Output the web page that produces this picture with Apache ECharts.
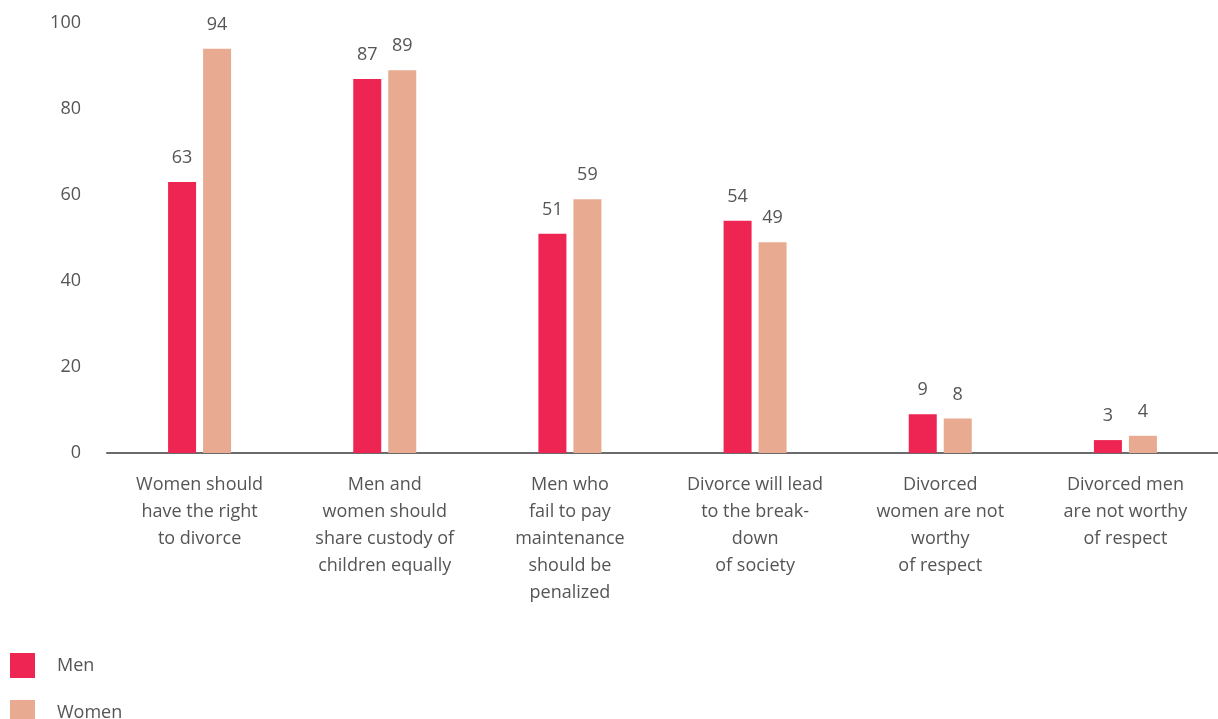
<!DOCTYPE html>
<html><head><meta charset="utf-8">
<script src="https://cdn.jsdelivr.net/npm/echarts@6/dist/echarts.min.js"></script>
<style>html,body{margin:0;padding:0;background:#fff}#c{width:1218px;height:719px}</style>
</head><body><div id="c"></div>
<script>
const categories = [
  "Women should\nhave the right\nto divorce",
  "Men and\nwomen should\nshare custody of\nchildren equally",
  "Men who\nfail to pay\nmaintenance\nshould be\npenalized",
  "Divorce will lead\nto the break-\ndown\nof society",
  "Divorced\nwomen are not\nworthy\nof respect",
  "Divorced men\nare not worthy\nof respect"
];
const menValues = [63, 87, 51, 54, 9, 3];
const womenValues = [94, 89, 59, 49, 8, 4];
const seriesNames = ["Men", "Women"];

const txt = '#555555';
const font = '"Open Sans", "Noto Sans", sans-serif';
const legendBase = {
  orient: 'vertical', left: 5, itemWidth: 25, itemHeight: 25,
  icon: 'rect', selectedMode: false,
  textStyle: { color: txt, fontSize: 18, fontFamily: font, padding: [0, 0, 0, 17] }
};
const chart = echarts.init(document.getElementById('c'));
chart.setOption({
  animation: false,
  textStyle: { fontFamily: font },
  grid: { left: 107, right: -21, top: 23, bottom: 266, containLabel: false },
  legend: [
    Object.assign({}, legendBase, { top: 648, data: [seriesNames[0]] }),
    Object.assign({}, legendBase, { top: 695, data: [seriesNames[1]] })
  ],
  xAxis: {
    type: 'category', data: categories,
    axisLine: { lineStyle: { color: '#6b6b6b', width: 2 } },
    axisTick: { show: false },
    axisLabel: { color: txt, fontSize: 18, lineHeight: 27, margin: 18, interval: 0, fontFamily: font }
  },
  yAxis: {
    type: 'value', min: 0, max: 100, interval: 20,
    splitLine: { show: false }, axisLine: { show: false }, axisTick: { show: false },
    axisLabel: { color: txt, fontSize: 18, margin: 26, fontFamily: font }
  },
  series: [
    { name: seriesNames[0], type: 'bar', data: menValues, barWidth: 28, barGap: '25%',
      itemStyle: { color: '#EE2453' },
      label: { show: true, position: 'top', distance: 15, color: txt, fontSize: 18, fontFamily: font } },
    { name: seriesNames[1], type: 'bar', data: womenValues, barWidth: 28,
      itemStyle: { color: '#E8AA91' },
      label: { show: true, position: 'top', distance: 15, color: txt, fontSize: 18, fontFamily: font } }
  ]
});
</script></body></html>
